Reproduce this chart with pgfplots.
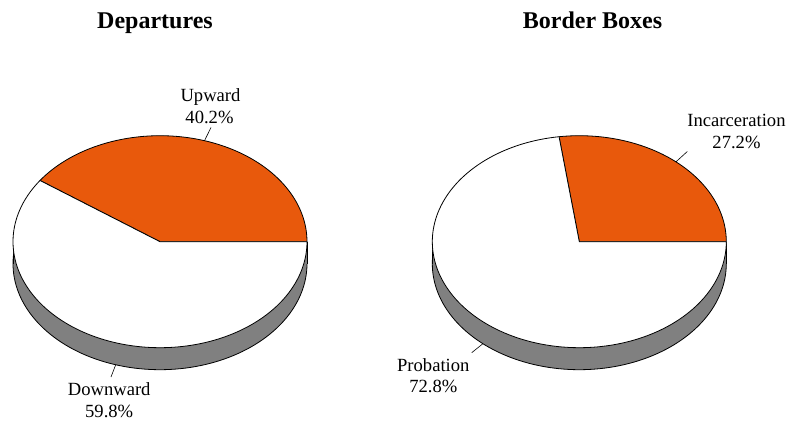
\documentclass[border=0pt]{standalone}
\usepackage{pgfplots}
\pgfplotsset{compat=1.18}
\usepackage{fontspec}
\setmainfont{Liberation Serif}
\definecolor{pieorange}{RGB}{232,89,12}
\definecolor{sidegray}{RGB}{128,128,128}
\newcommand{\labfont}{\fontsize{18.6bp}{21.5bp}\selectfont}
\newcommand{\titfont}{\fontsize{24bp}{28bp}\selectfont\bfseries}
% data (percent)
\def\upward{40.2}
\def\downward{59.8}
\def\incarc{27.2}
\def\probat{72.8}
\begin{document}
\begin{tikzpicture}
\pgfmathsetmacro{\aL}{\upward*3.6}
\pgfmathsetmacro{\aR}{\incarc*3.6}
\begin{axis}[hide axis, scale only axis, width=793bp, height=422bp,
  xmin=0, xmax=793, ymin=0, ymax=422, y dir=reverse, clip=false,
  every axis plot/.append style={line width=0.8bp, line join=round}]
\path (axis cs:0,0) rectangle (axis cs:793,422);
% ---------- left pie: Departures ----------
\addplot[fill=sidegray, draw=black, domain=0:360, samples=181, variable=\t]
  ({160+147*cos(t)},{263.7-106*sin(t)}) -- cycle;
\addplot[fill=sidegray, draw=none] coordinates {(13,241.7)(307,241.7)(307,263.7)(13,263.7)} -- cycle;
\addplot[black] coordinates {(13,241.7)(13,263.7)};
\addplot[black] coordinates {(307,241.7)(307,263.7)};
\addplot[fill=pieorange, draw=black, domain=0:\aL, samples=100, variable=\t]
  ({160+147*cos(t)},{241.7-106*sin(t)}) -- (axis cs:160,241.7) -- cycle;
\addplot[fill=white, draw=black, domain=\aL:360, samples=120, variable=\t]
  ({160+147*cos(t)},{241.7-106*sin(t)}) -- (axis cs:160,241.7) -- cycle;
% leader lines
\addplot[black, line width=0.6bp] coordinates {(204.5,140.7)(211,127.5)};
\addplot[black, line width=0.6bp] coordinates {(115.8,364.5)(111,377)};
% ---------- right pie: Border Boxes ----------
\addplot[fill=sidegray, draw=black, domain=0:360, samples=181, variable=\t]
  ({579.3+147*cos(t)},{263.7-106*sin(t)}) -- cycle;
\addplot[fill=sidegray, draw=none] coordinates {(432.3,241.7)(726.3,241.7)(726.3,263.7)(432.3,263.7)} -- cycle;
\addplot[black] coordinates {(432.3,241.7)(432.3,263.7)};
\addplot[black] coordinates {(726.3,241.7)(726.3,263.7)};
\addplot[fill=pieorange, draw=black, domain=0:\aR, samples=80, variable=\t]
  ({579.3+147*cos(t)},{241.7-106*sin(t)}) -- (axis cs:579.3,241.7) -- cycle;
\addplot[fill=white, draw=black, domain=\aR:360, samples=140, variable=\t]
  ({579.3+147*cos(t)},{241.7-106*sin(t)}) -- (axis cs:579.3,241.7) -- cycle;
\addplot[black, line width=0.6bp] coordinates {(676,161.8)(687.3,151.5)};
\addplot[black, line width=0.6bp] coordinates {(482.8,343.8)(471.7,352.7)};
% ---------- text ----------
\node[anchor=base, inner sep=0pt] at (axis cs:155,28.3) {\titfont Departures};
\node[anchor=base, inner sep=0pt] at (axis cs:592.5,28.3) {\titfont Border Boxes};
\node[anchor=base, inner sep=0pt] at (axis cs:210.5,101) {\labfont Upward};
\node[anchor=base, inner sep=0pt] at (axis cs:209.5,123) {\labfont 40.2\%};
\node[anchor=base, inner sep=0pt] at (axis cs:109.2,395.7) {\labfont Downward};
\node[anchor=base, inner sep=0pt] at (axis cs:109.2,417) {\labfont 59.8\%};
\node[anchor=base, inner sep=0pt] at (axis cs:736.5,126.7) {\labfont Incarceration};
\node[anchor=base, inner sep=0pt] at (axis cs:736.5,148) {\labfont 27.2\%};
\node[anchor=base, inner sep=0pt] at (axis cs:433.3,371.7) {\labfont Probation};
\node[anchor=base, inner sep=0pt] at (axis cs:433.3,392.5) {\labfont 72.8\%};
\end{axis}
\end{tikzpicture}
\end{document}
